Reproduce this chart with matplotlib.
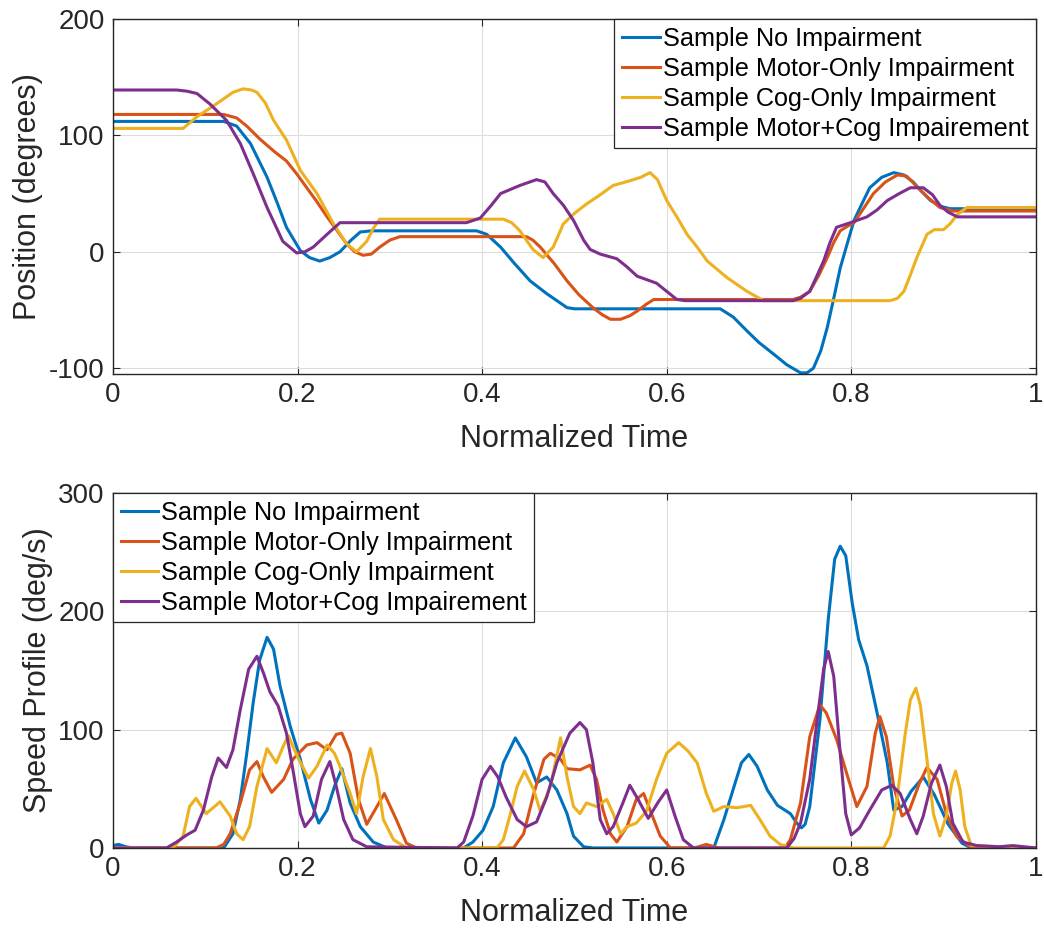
import matplotlib
matplotlib.use('Agg')
import matplotlib.pyplot as plt

plt.rcParams['font.family'] = ['Liberation Sans', 'DejaVu Sans']
plt.rcParams['axes.unicode_minus'] = False

LABELS = ['Sample No Impairment', 'Sample Motor-Only Impairment',
          'Sample Cog-Only Impairment', 'Sample Motor+Cog Impairement']
COLORS = ['#0072BD', '#D95319', '#EDB120', '#7E2F8E']

# position traces (normalized time, degrees)
pos_none_t = [0, 0.12, 0.134, 0.149, 0.167, 0.178, 0.188, 0.203, 0.213, 0.224, 0.235, 0.246, 0.258, 0.268,
              0.28, 0.394, 0.405, 0.42, 0.435, 0.452, 0.47, 0.492, 0.5, 0.658, 0.672, 0.687, 0.7, 0.716,
              0.73, 0.745, 0.752, 0.759, 0.767, 0.774, 0.781, 0.788, 0.796, 0.803, 0.812, 0.82, 0.833,
              0.846, 0.857, 0.867, 0.876, 0.886, 0.897, 0.907, 1.0]
pos_none = [112, 112, 108, 93, 64, 42, 21, 1, -5, -8, -5, 0, 10, 17,
            18, 18, 15, 4, -10, -25, -36, -48, -49, -49, -56, -68, -78, -88,
            -97, -104, -104, -100, -85, -65, -40, -14, 8, 27, 42, 55, 64,
            68, 66, 60, 52, 44, 39, 37, 37]

pos_motor_t = [0, 0.12, 0.134, 0.145, 0.159, 0.175, 0.188, 0.2, 0.21, 0.221, 0.232, 0.243, 0.253, 0.262,
               0.271, 0.28, 0.289, 0.3, 0.311, 0.448, 0.455, 0.463, 0.478, 0.492, 0.505, 0.52, 0.53,
               0.539, 0.55, 0.56, 0.568, 0.578, 0.586, 0.737, 0.745, 0.755, 0.765, 0.774, 0.781, 0.788,
               0.796, 0.803, 0.814, 0.824, 0.837, 0.85, 0.86, 0.871, 0.884, 0.896, 0.91, 0.92, 1.0]
pos_motor = [118, 118, 115, 108, 97, 86, 78, 66, 55, 43, 30, 18, 7, 0,
             -3, -2, 4, 10, 13, 13, 10, 4, -10, -25, -37, -48, -54,
             -58, -58, -55, -51, -45, -41, -41, -39, -34, -20, -5, 8, 18,
             22, 25, 38, 50, 60, 66, 65, 56, 46, 38, 35, 35, 35]

pos_cog_t = [0, 0.076, 0.091, 0.112, 0.13, 0.141, 0.15, 0.156, 0.165, 0.174, 0.188, 0.203, 0.221, 0.239,
             0.253, 0.264, 0.275, 0.282, 0.289, 0.3, 0.423, 0.432, 0.441, 0.455, 0.466, 0.477, 0.488,
             0.5, 0.513, 0.528, 0.542, 0.56, 0.572, 0.582, 0.59, 0.6, 0.611, 0.622, 0.633, 0.644, 0.665,
             0.687, 0.705, 0.842, 0.85, 0.857, 0.864, 0.871, 0.882, 0.89, 0.9, 0.907, 0.915, 0.925, 1.0]
pos_cog = [106, 106, 116, 127, 137, 140, 139, 137, 128, 113, 96, 70, 50, 24,
           7, 0, 9, 20, 28, 28, 28, 25, 18, 2, -5, 4, 24,
           33, 41, 49, 57, 61, 64, 68, 62, 44, 30, 15, 4, -8, -22,
           -34, -42, -42, -40, -34, -20, -5, 15, 19, 19, 24, 32, 38, 38]

pos_both_t = [0, 0.069, 0.08, 0.091, 0.105, 0.123, 0.138, 0.152, 0.167, 0.184, 0.199, 0.208, 0.217, 0.232,
              0.246, 0.26, 0.383, 0.398, 0.41, 0.42, 0.441, 0.459, 0.468, 0.477, 0.488, 0.499, 0.51,
              0.517, 0.528, 0.546, 0.557, 0.568, 0.589, 0.6, 0.611, 0.62, 0.737, 0.745, 0.755, 0.762,
              0.77, 0.777, 0.784, 0.799, 0.817, 0.828, 0.839, 0.852, 0.864, 0.878, 0.888, 0.896, 0.905,
              0.915, 1.0]
pos_both = [139, 139, 138, 136, 127, 113, 93, 67, 38, 9, -1, 0, 4, 15,
            25, 25, 25, 29, 40, 50, 57, 62, 60, 50, 40, 27, 10,
            2, -2, -6, -13, -21, -27, -34, -41, -42, -42, -40, -34, -22,
            -8, 8, 21, 25, 30, 36, 44, 50, 55, 55, 49, 40, 34,
            30, 30]

# speed traces (normalized time, deg/s)
spd_none_t = [0, 0.006, 0.014, 0.022, 0.12, 0.13, 0.138, 0.145, 0.152, 0.159, 0.167, 0.174, 0.181, 0.192,
              0.203, 0.214, 0.223, 0.232, 0.24, 0.248, 0.257, 0.268, 0.282, 0.297, 0.38, 0.39, 0.401,
              0.412, 0.423, 0.436, 0.448, 0.459, 0.47, 0.481, 0.492, 0.499, 0.51, 0.52, 0.651, 0.662,
              0.673, 0.681, 0.689, 0.698, 0.709, 0.72, 0.734, 0.741, 0.746, 0.75, 0.755, 0.766, 0.775,
              0.782, 0.788, 0.794, 0.801, 0.808, 0.817, 0.828, 0.839, 0.846, 0.855, 0.865, 0.878, 0.89,
              0.905, 0.92, 0.93, 1.0]
spd_none = [2, 3, 1, 0, 0, 12, 41, 80, 123, 159, 178, 168, 137, 103,
            75, 41, 21, 32, 52, 67, 38, 18, 5, 0, 0, 5, 15,
            35, 72, 93, 77, 55, 60, 49, 29, 10, 1, 0, 0, 24,
            52, 72, 79, 69, 49, 36, 29, 21, 17, 20, 35, 108, 193,
            244, 255, 247, 207, 176, 154, 114, 72, 32, 35, 48, 60, 45,
            20, 4, 0, 0]

spd_motor_t = [0, 0.112, 0.12, 0.127, 0.138, 0.148, 0.156, 0.163, 0.172, 0.185, 0.195, 0.21, 0.221, 0.232,
               0.242, 0.248, 0.257, 0.266, 0.275, 0.286, 0.294, 0.307, 0.318, 0.329, 0.434, 0.445,
               0.456, 0.467, 0.474, 0.485, 0.492, 0.506, 0.517, 0.524, 0.531, 0.539, 0.546, 0.557,
               0.567, 0.575, 0.582, 0.593, 0.604, 0.63, 0.643, 0.656, 0.728, 0.734, 0.745, 0.755,
               0.766, 0.773, 0.784, 0.795, 0.806, 0.817, 0.826, 0.831, 0.838, 0.846, 0.855, 0.863,
               0.874, 0.882, 0.893, 0.903, 0.914, 0.929, 1.0]
spd_motor = [0, 0, 3, 12, 38, 66, 73, 60, 47, 58, 75, 87, 89, 83,
             96, 97, 80, 41, 20, 35, 46, 24, 4, 0, 0, 12,
             46, 75, 80, 75, 67, 66, 70, 58, 32, 12, 5, 18,
             41, 46, 32, 10, 0, 0, 3, 0, 0, 7, 38, 94,
             121, 114, 92, 63, 35, 52, 97, 111, 94, 52, 27, 32,
             55, 68, 58, 29, 10, 1, 0]

spd_cog_t = [0, 0.065, 0.076, 0.083, 0.09, 0.101, 0.116, 0.127, 0.134, 0.141, 0.148, 0.156, 0.167, 0.177,
             0.184, 0.19, 0.2, 0.212, 0.221, 0.232, 0.24, 0.246, 0.257, 0.264, 0.271, 0.279, 0.286,
             0.293, 0.304, 0.318, 0.416, 0.423, 0.43, 0.438, 0.446, 0.456, 0.463, 0.474, 0.485, 0.492,
             0.499, 0.506, 0.513, 0.524, 0.535, 0.542, 0.55, 0.557, 0.567, 0.578, 0.589, 0.6, 0.613,
             0.623, 0.633, 0.643, 0.651, 0.662, 0.676, 0.691, 0.701, 0.712, 0.723, 0.737, 0.835,
             0.842, 0.849, 0.858, 0.864, 0.87, 0.875, 0.882, 0.889, 0.896, 0.903, 0.909, 0.913,
             0.918, 0.923, 0.93, 1.0]
spd_cog = [0, 0, 10, 35, 42, 29, 39, 27, 12, 7, 18, 52, 84, 72,
           85, 95, 77, 59, 69, 87, 80, 69, 46, 29, 60, 84, 60,
           24, 7, 0, 0, 7, 27, 52, 65, 49, 31, 52, 93, 60,
           35, 29, 38, 35, 41, 29, 12, 18, 21, 31, 58, 80, 89,
           82, 72, 46, 31, 35, 34, 36, 24, 10, 3, 0, 0,
           10, 38, 94, 125, 135, 120, 75, 29, 10, 27, 55, 65,
           49, 18, 2, 0]

spd_both_t = [0, 0.058, 0.069, 0.08, 0.089, 0.098, 0.107, 0.114, 0.123, 0.13, 0.138, 0.147, 0.156, 0.163,
              0.17, 0.179, 0.188, 0.195, 0.203, 0.208, 0.217, 0.226, 0.235, 0.242, 0.25, 0.26, 0.275,
              0.373, 0.38, 0.39, 0.4, 0.409, 0.417, 0.426, 0.438, 0.448, 0.459, 0.47, 0.481, 0.495,
              0.506, 0.513, 0.52, 0.528, 0.535, 0.542, 0.553, 0.56, 0.569, 0.58, 0.591, 0.6, 0.609,
              0.618, 0.629, 0.73, 0.738, 0.745, 0.755, 0.763, 0.77, 0.775, 0.781, 0.788, 0.794, 0.8,
              0.809, 0.82, 0.833, 0.844, 0.853, 0.864, 0.871, 0.878, 0.887, 0.896, 0.903, 0.91, 0.921,
              0.936, 0.96, 0.975, 1.0]
spd_both = [0, 0, 5, 11, 15, 32, 60, 76, 68, 83, 117, 151, 162, 148,
            132, 120, 97, 66, 29, 18, 27, 58, 73, 52, 24, 7, 1,
            0, 5, 27, 58, 69, 60, 43, 24, 18, 22, 43, 72, 97,
            106, 100, 72, 24, 12, 18, 39, 53, 41, 25, 39, 49, 27,
            7, 0, 0, 8, 21, 58, 108, 151, 166, 145, 80, 29, 11,
            17, 32, 49, 53, 46, 24, 12, 27, 55, 70, 52, 21, 5,
            2, 1, 2, 0]

pos_series = [(pos_none_t, pos_none), (pos_motor_t, pos_motor), (pos_cog_t, pos_cog), (pos_both_t, pos_both)]
spd_series = [(spd_none_t, spd_none), (spd_motor_t, spd_motor), (spd_cog_t, spd_cog), (spd_both_t, spd_both)]

XTICKS = [0, 0.2, 0.4, 0.6, 0.8, 1]
XTICKLABELS = ['0', '0.2', '0.4', '0.6', '0.8', '1']


def style_axes(ax):
    ax.set_xlim(0, 1)
    ax.set_xticks(XTICKS)
    ax.set_xticklabels(XTICKLABELS)
    ax.grid(True, color='#dcdcdc', linewidth=0.8)
    ax.set_axisbelow(True)
    ax.tick_params(direction='in', top=True, right=True, length=5, width=0.8,
                   labelsize=20, colors='#262626', pad=6)
    for s in ax.spines.values():
        s.set_color('#262626')
        s.set_linewidth(1.0)
    ax.set_xlabel('Normalized Time', fontsize=22, color='#262626', labelpad=11)


def add_legend(ax, loc):
    leg = ax.legend(loc=loc, fontsize=18.2, borderaxespad=0, borderpad=0.3, handlelength=1.5,
                    handletextpad=0.1, labelspacing=0.24, fancybox=False, framealpha=1)
    leg.get_frame().set_edgecolor('#262626')
    leg.get_frame().set_linewidth(0.9)


fig = plt.figure(figsize=(10.44, 9.31), dpi=100)
ax1 = fig.add_axes([0.1082, 0.5983, 0.884, 0.3813])
ax2 = fig.add_axes([0.1082, 0.0892, 0.884, 0.3813])

for (t, v), c, lab in zip(pos_series, COLORS, LABELS):
    ax1.plot(t, v, color=c, linewidth=2.2, label=lab)
style_axes(ax1)
ax1.set_ylim(-105, 200)
ax1.set_yticks([-100, 0, 100, 200])
ax1.set_ylabel('Position (degrees)', fontsize=22, color='#262626')
add_legend(ax1, 'upper right')

for (t, v), c, lab in zip(spd_series, COLORS, LABELS):
    ax2.plot(t, v, color=c, linewidth=2.2, label=lab)
style_axes(ax2)
ax2.set_ylim(0, 300)
ax2.set_yticks([0, 100, 200, 300])
ax2.set_ylabel('Speed Profile (deg/s)', fontsize=22, color='#262626')
add_legend(ax2, 'upper left')

fig.savefig('out.png', dpi=100)
